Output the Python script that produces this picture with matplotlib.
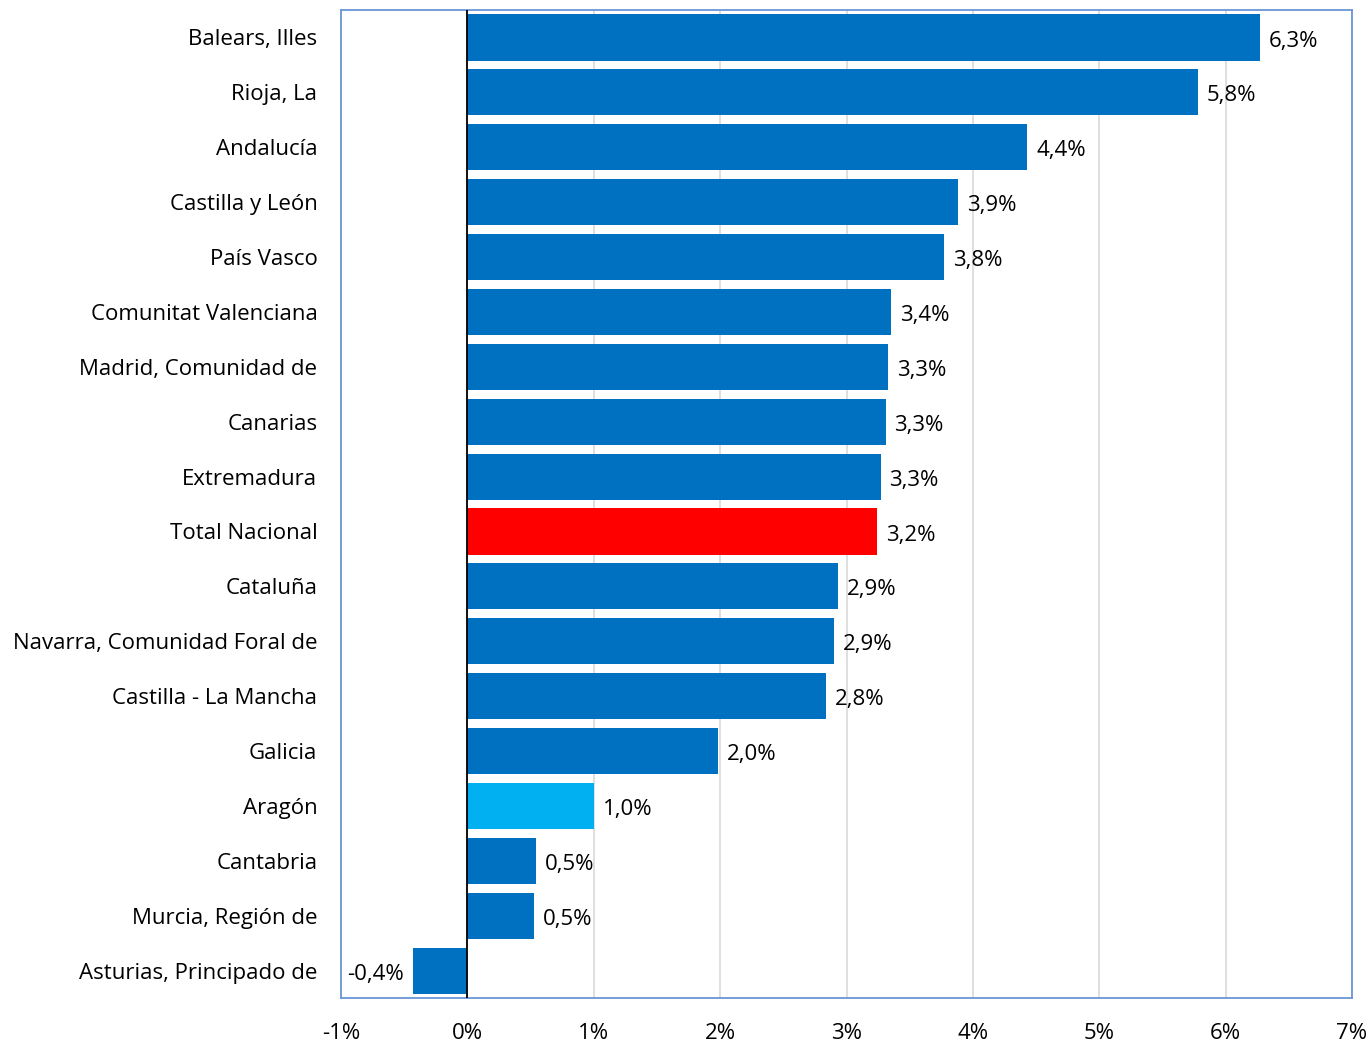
import numpy as np
import matplotlib
matplotlib.use("Agg")
import matplotlib.pyplot as plt

plt.rcParams['font.family'] = ['Open Sans', 'DejaVu Sans']

regions = ["Balears, Illes", "Rioja, La", "Andalucía", "Castilla y León", "País Vasco",
           "Comunitat Valenciana", "Madrid, Comunidad de", "Canarias", "Extremadura",
           "Total Nacional", "Cataluña", "Navarra, Comunidad Foral de",
           "Castilla - La Mancha", "Galicia", "Aragón", "Cantabria",
           "Murcia, Región de", "Asturias, Principado de"]
values = [6.27, 5.78, 4.43, 3.88, 3.77, 3.35, 3.33, 3.31, 3.27, 3.24,
          2.93, 2.90, 2.84, 1.98, 1.00, 0.54, 0.53, -0.43]

blue = "#0070C0"
colors = [blue] * len(regions)
colors[regions.index("Total Nacional")] = "#FF0000"
colors[regions.index("Aragón")] = "#00B0F0"

fig = plt.figure(figsize=(13.7, 10.43), dpi=100)
ax = fig.add_axes([0.2489, 0.0431, 0.7380, 0.9473])

y = np.arange(len(regions))
ax.barh(y, values, height=0.84, color=colors, zorder=3)
ax.set_ylim(len(regions) - 0.5, -0.5)
ax.set_xlim(-1, 7)
ax.axvline(0, color="black", lw=1.3, zorder=4)

for yi, v in zip(y, values):
    lab = ("%.1f%%" % v).replace(".", ",")
    if v >= 0:
        ax.text(v + 0.07, yi + 0.02, lab, va="center_baseline", ha="left", fontsize=16)
    else:
        ax.text(v - 0.07, yi + 0.02, lab, va="center_baseline", ha="right", fontsize=16)

ax.set_yticks(y)
ax.set_yticklabels(regions, fontsize=16, va="center_baseline")
ax.set_xticks(range(-1, 8))
ax.set_xticklabels(["%d%%" % t for t in range(-1, 8)], fontsize=16)
ax.tick_params(axis="both", length=0)
ax.tick_params(axis="y", pad=17)
ax.tick_params(axis="x", pad=18)
ax.grid(axis="x", color="#D9D9D9", lw=1.2, zorder=0)
for s in ax.spines.values():
    s.set_color("#6A96D4")
    s.set_linewidth(1.3)

plt.savefig("out.png", dpi=100)
